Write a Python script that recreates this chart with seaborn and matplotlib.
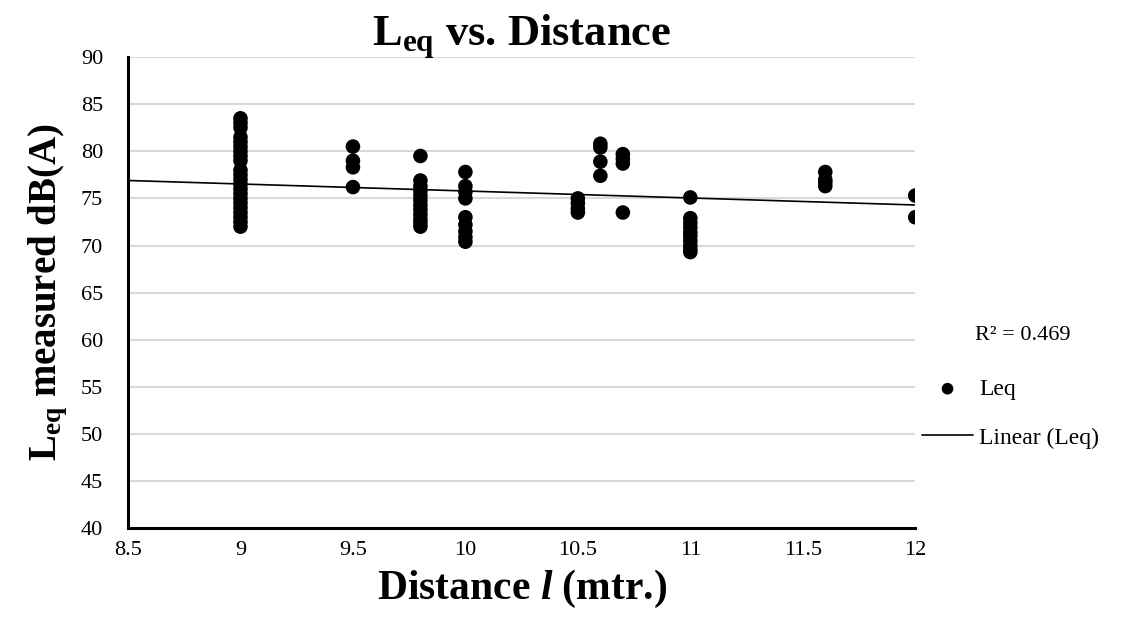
"""
Scatter of measured Leq against distance, with a linear trend line.
"""

import numpy as np
import pandas as pd
import matplotlib
matplotlib.use('Agg')
import matplotlib.pyplot as plt
import seaborn as sns

# measured points, grouped by distance
leq_9 = [83.5, 83.0, 82.5, 81.5, 81.0, 80.5, 80.0, 79.5, 79.0, 78.0, 77.5,
         77.0, 76.5, 76.0, 75.5, 75.0, 74.5, 74.0, 73.5, 73.0, 72.5, 72.0]
leq_9_5 = [80.5, 79.0, 78.3, 76.2]
leq_9_8 = [79.5, 76.9, 76.3, 75.8, 75.3, 74.8, 74.3, 73.8, 73.3, 72.8, 72.4, 72.0]
leq_10 = [77.8, 76.3, 75.7, 75.0, 73.0, 72.2, 71.5, 70.9, 70.4]
leq_10_5 = [75.0, 74.5, 73.9, 73.5]
leq_10_6 = [80.8, 80.4, 78.9, 77.4]
leq_10_7 = [79.7, 79.2, 78.7, 73.5]
leq_11 = [75.1, 72.9, 72.4, 71.9, 71.4, 71.0, 70.5, 70.0, 69.6, 69.3]
leq_11_6 = [77.8, 77.0, 76.7, 76.3]
leq_12 = [75.3, 73.0]

distances = [9, 9.5, 9.8, 10, 10.5, 10.6, 10.7, 11, 11.6, 12]
groups = [leq_9, leq_9_5, leq_9_8, leq_10, leq_10_5, leq_10_6, leq_10_7,
          leq_11, leq_11_6, leq_12]

# linear trend line as drawn (endpoints)
trend_x = [8.5, 12]
trend_y = [76.9, 74.3]
r_squared = 0.469

x_ticks = [8.5, 9, 9.5, 10, 10.5, 11, 11.5, 12]
y_ticks = list(range(40, 91, 5))

rows = []
for d, vals in zip(distances, groups):
    for v in vals:
        rows.append({'distance': d, 'leq': v})
df = pd.DataFrame(rows)

sns.set_theme(style='white')
plt.rcParams['font.family'] = ['Liberation Serif', 'DejaVu Serif']
plt.rcParams['text.color'] = 'black'
plt.rcParams['axes.labelcolor'] = 'black'
plt.rcParams['mathtext.fontset'] = 'custom'
plt.rcParams['mathtext.rm'] = 'Liberation Serif:bold'
plt.rcParams['mathtext.bf'] = 'Liberation Serif:bold'
plt.rcParams['mathtext.it'] = 'Liberation Serif:bold:italic'

fig = plt.figure(figsize=(11.23, 6.41), dpi=100)
ax = fig.add_axes([0.114, 0.176, 0.701, 0.735])

ax.grid(axis='y', color='#d9d9d9', linewidth=1.5)
ax.set_axisbelow(True)

sns.scatterplot(data=df, x='distance', y='leq', ax=ax, color='black',
                s=110, edgecolor='none', label='Leq', zorder=3)
sns.lineplot(x=trend_x, y=trend_y, ax=ax, color='black', linewidth=1.2,
             label='Linear (Leq)', zorder=2)

ax.set_xlim(8.5, 12)
ax.set_ylim(40, 90)
ax.set_xticks(x_ticks)
ax.set_xticklabels([f'{t:g}' for t in x_ticks])
ax.set_yticks(y_ticks)

for side in ['top', 'right']:
    ax.spines[side].set_visible(False)
for side in ['left', 'bottom']:
    ax.spines[side].set_color('black')
    ax.spines[side].set_linewidth(2.2)
ax.tick_params(axis='both', direction='out', length=5, width=2.2,
               colors='black', labelsize=16)
ax.tick_params(axis='y', pad=13)
ax.tick_params(axis='x', pad=4)

ax.set_title(r'L$_{\mathbf{eq}}$ vs. Distance', fontsize=32,
             fontweight='bold', pad=8, color='black')
ax.set_xlabel(r'Distance $\mathit{l}$ (mtr.)', fontsize=30,
              fontweight='bold', labelpad=6)
ax.set_ylabel(r'L$_{\mathbf{eq}}$ measured dB(A)', fontsize=28,
              fontweight='bold', labelpad=8)

leg = ax.legend(loc='upper left', bbox_to_anchor=(1.008, 0.318), frameon=False,
                fontsize=17, handlelength=2.2, handletextpad=0.25,
                labelspacing=1.15, markerscale=0.8, borderpad=0,
                borderaxespad=0)
for t in leg.get_texts():
    t.set_color('black')
fig.text(0.868, 0.47, f'R² = {r_squared}', fontsize=16, color='black')

fig.savefig('out.png', dpi=100)
plt.close(fig)
